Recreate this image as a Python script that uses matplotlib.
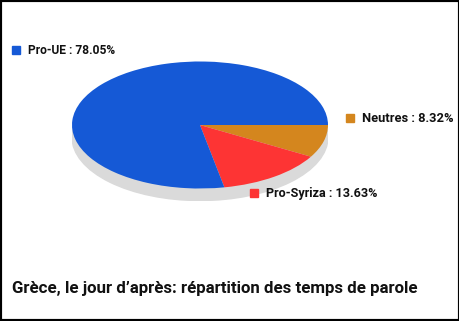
import matplotlib
matplotlib.use("Agg")
import matplotlib.pyplot as plt
import matplotlib.patches as mpatches

# ── data ─────────────────────────────────────────────────────────────────────
categories = ["Neutres", "Pro-Syriza", "Pro-UE"]
shares = [8.32, 13.63, 78.05]
colors = ["#d4861e", "#fd3434", "#1559d6"]
title = "Grèce, le jour d\u2019après: répartition des temps de parole"

W, H = 460, 321
FONT = dict(family=["Roboto", "DejaVu Sans"], weight="bold", stretch="condensed")

fig = plt.figure(figsize=(W / 100, H / 100), dpi=100)
fig.patch.set_facecolor("white")

# pie axes: circle stretched into an ellipse (x radius 128px, y radius 63px)
cx, cy, rx, ry = 200, 125, 128, 63.5
shadow = 0.19
ax = fig.add_axes([(cx - rx) / W, 1 - (cy + ry * (1 + shadow)) / H,
                   2 * rx / W, ry * (2 + shadow) / H])
ax.add_patch(mpatches.Circle((0, -shadow), 1, color="#dadada", zorder=0))
ax.pie(shares, colors=colors, startangle=0, counterclock=False,
       wedgeprops=dict(linewidth=0))
ax.set_aspect("auto")
ax.set_xlim(-1, 1)
ax.set_ylim(-1 - shadow, 1)
ax.axis("off")

renderer = fig.canvas.get_renderer()


def fit_text(x, y, s, width, size):
    # shrink the font until the text is about as wide as in the reference
    t = fig.text(x / W, 1 - y / H, s, fontsize=size, ha="left", va="center",
                 color="#111111", **FONT)
    w = t.get_window_extent(renderer).width
    if w > width:
        t.set_fontsize(size * width / w)
    return t


# legend-style labels placed around the pie (pixel positions, text widths)
label_pos = {"Pro-UE": (12, 50, 88), "Neutres": (346, 118, 92),
             "Pro-Syriza": (250, 193, 112)}
for cat, share, col in zip(categories, shares, colors):
    x, y, w = label_pos[cat]
    fig.patches.append(mpatches.Rectangle((x / W, 1 - (y + 4) / H), 8 / W, 8 / H,
                                          transform=fig.transFigure, color=col))
    fit_text(x + 16, y, f"{cat} : {share:.2f}%", w, 10.5)

fit_text(12, 289, title, 410, 16)

# black frame
fig.patches.append(mpatches.Rectangle((0, 0), 1, 1, transform=fig.transFigure,
                                      fill=False, edgecolor="black", linewidth=3))

fig.savefig("out.png", dpi=100)
